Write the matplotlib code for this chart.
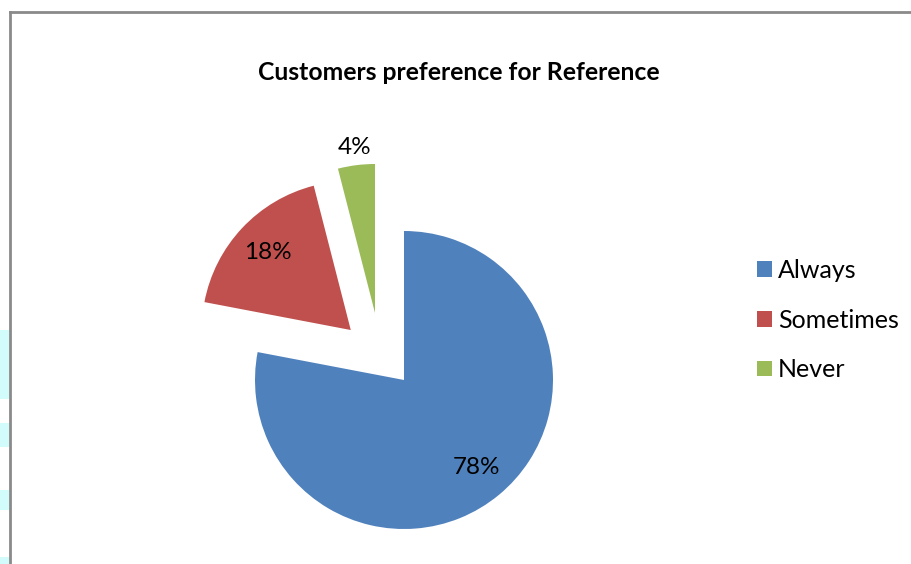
import matplotlib
matplotlib.use("Agg")
import matplotlib.pyplot as plt
import numpy as np
from matplotlib.lines import Line2D
from matplotlib.patches import Rectangle

W, H = 912, 564

labels = ["Always", "Sometimes", "Never"]
shares = [78, 18, 4]
colors = ["#4F81BD", "#C0504D", "#9BBB59"]
title = "Customers preference for Reference"

plt.rcParams["font.family"] = ["Lato", "DejaVu Sans"]

fig = plt.figure(figsize=(W / 100, H / 100), dpi=100, facecolor="white")
ax = fig.add_axes([0, 0, 1, 1])

# pie centre and radius in pixels, so one data unit == radius
cx, cy, R = 404, H - 380, 149

wedges, texts, autotexts = ax.pie(
    shares, colors=colors, startangle=90, counterclock=False,
    explode=[0, 0.49, 0.49], autopct="%1.0f%%", pctdistance=0.76,
    textprops=dict(fontsize=17.5, color="#000000"),
    wedgeprops=dict(linewidth=0),
)

# the small slice sits up and to the left of its bisector
shift = np.deg2rad(113.4)
wedges[2].set_center((0.49 * np.cos(shift), 0.49 * np.sin(shift)))
mid = np.deg2rad(90 - 360 * (sum(shares[:2]) + shares[2] / 2) / sum(shares))
gx, gy = wedges[2].center
autotexts[2].set_position((gx + 1.12 * np.cos(mid), gy + 1.12 * np.sin(mid)))

ax.set_xlim(-cx / R, (W - cx) / R)
ax.set_ylim(-cy / R, (H - cy) / R)
ax.set_aspect("auto")
ax.axis("off")

fig.text(459 / W, 1 - 72 / H, title, ha="center", va="center",
         fontsize=17.8, fontweight="bold", color="#000000")

fig.legend(wedges, labels, loc="center left",
           bbox_to_anchor=(757 / W, 1 - 320 / H), frameon=False,
           fontsize=18, handlelength=0.6, handleheight=0.6,
           handletextpad=0.24, labelspacing=1.07, borderpad=0, borderaxespad=0)

# chart frame: only the left and top edges fall inside the canvas
frame = dict(color="#8a8a8a", lw=2, transform=fig.transFigure)
fig.add_artist(Line2D([10.5 / W, 10.5 / W], [0, 1 - 11.5 / H], **frame))
fig.add_artist(Line2D([10.5 / W, 1], [1 - 11.5 / H, 1 - 11.5 / H], **frame))

# pale cyan background strip left of the frame
for top, bot in [(330, 399), (423, 447), (490, 510), (557, 564)]:
    fig.add_artist(Rectangle((0, 1 - bot / H), 9 / W, (bot - top) / H,
                             transform=fig.transFigure, color="#d2fbfb", lw=0))

fig.savefig("out.png", dpi=100, facecolor="white")
